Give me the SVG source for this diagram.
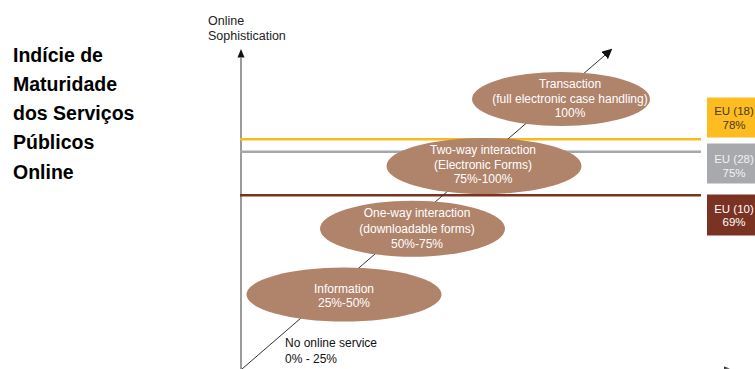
<svg xmlns="http://www.w3.org/2000/svg" width="755" height="369" viewBox="0 0 755 369">
<style>
.t{font-family:"Liberation Sans",Arial,sans-serif}
.title{font-size:19.5px;font-weight:bold;fill:#000}
.el{fill:#B0836B}
.et{font-size:12px;fill:#fff;text-anchor:middle}
.eu{font-size:11.5px;text-anchor:middle}
.lbl{font-size:12px;fill:#111}
</style>
<defs>
<marker id="ah" markerWidth="10" markerHeight="10" refX="9" refY="5" orient="auto" markerUnits="userSpaceOnUse">
<path d="M0,0 L10,5 L0,10 Z" fill="#111"/>
</marker>
</defs>
<rect width="755" height="369" fill="#fff"/>
<g id="title" class="t title">
<text x="13" y="62">Indície de</text>
<text x="13" y="91">Maturidade</text>
<text x="13" y="120">dos Serviços</text>
<text x="13" y="149">Públicos</text>
<text x="13" y="179">Online</text>
</g>
<g id="axis-label" class="t">
<text x="208" y="25" font-size="12.5" fill="#222">Online</text>
<text x="208" y="40" font-size="12.5" fill="#222">Sophistication</text>
</g>
<g id="connectors">
<line x1="241" y1="369" x2="241" y2="58" stroke="#666" stroke-width="1.3"/>
<path d="M241,49 L237.5,57.5 L244.5,57.5 Z" fill="#111"/>
<line x1="240" y1="139.3" x2="701" y2="139.3" stroke="#FBBA1C" stroke-width="2.5"/>
<line x1="240" y1="151.7" x2="701" y2="151.7" stroke="#A6A8AB" stroke-width="2.5"/>
<line x1="240" y1="195.3" x2="701" y2="195.3" stroke="#7A3221" stroke-width="2.5"/>
<line x1="242" y1="369" x2="611.5" y2="49.5" stroke="#333" stroke-width="1" marker-end="url(#ah)"/>
<path d="M724,366.5 L730,368.5 L724,369 Z" fill="#333"/>
</g>
<g id="node-information">
<ellipse class="el" cx="344" cy="294.5" rx="97.5" ry="27"/>
<text class="t et" x="344" y="292.5">Information</text>
<text class="t et" x="344" y="307">25%-50%</text>
</g>
<g id="node-oneway">
<ellipse class="el" cx="412.5" cy="228.7" rx="92.5" ry="28"/>
<text class="t et" x="417" y="217.3">One-way interaction</text>
<text class="t et" x="417" y="233">(downloadable forms)</text>
<text class="t et" x="417" y="247.7">50%-75%</text>
</g>
<g id="node-twoway">
<ellipse class="el" cx="484" cy="166" rx="97.5" ry="28"/>
<text class="t et" x="483" y="154">Two-way interaction</text>
<text class="t et" x="483" y="169">(Electronic Forms)</text>
<text class="t et" x="483" y="183">75%-100%</text>
</g>
<g id="node-transaction">
<ellipse class="el" cx="561" cy="99" rx="89" ry="27"/>
<text class="t et" x="570" y="87.5">Transaction</text>
<text class="t et" x="570" y="102.5">(full electronic case handling)</text>
<text class="t et" x="570" y="117">100%</text>
</g>
<g id="node-nonline" class="t lbl">
<text x="285" y="346.7">No online service</text>
<text x="285" y="362.7">0% - 25%</text>
</g>
<g id="eu18">
<rect x="707" y="97.5" width="50" height="40" fill="#FDBC1F"/>
<text class="t eu" x="734" y="115" fill="#4A3A28">EU (18)</text>
<text class="t eu" x="734" y="128.5" fill="#4A3A28">78%</text>
</g>
<g id="eu28">
<rect x="707" y="143.5" width="50" height="40" fill="#A7A9AC"/>
<text class="t eu" x="734" y="163" fill="#F2F2F2">EU (28)</text>
<text class="t eu" x="734" y="176.5" fill="#F2F2F2">75%</text>
</g>
<g id="eu10">
<rect x="707" y="194.5" width="50" height="41" fill="#7A3222"/>
<text class="t eu" x="734" y="212.5" fill="#fff">EU (10)</text>
<text class="t eu" x="734" y="226" fill="#fff">69%</text>
</g>
</svg>
